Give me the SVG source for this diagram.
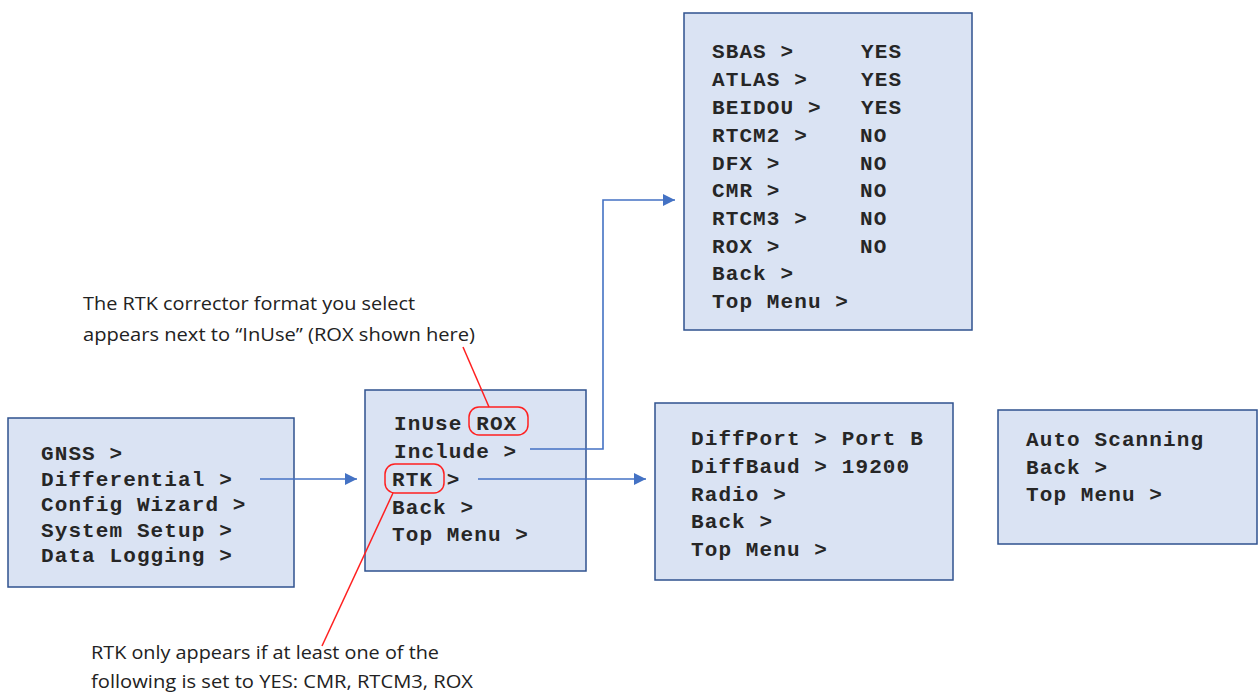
<svg xmlns="http://www.w3.org/2000/svg" width="1259" height="698" viewBox="0 0 1259 698">
<style>
.box{fill:#dae3f3;stroke:#2f528f;stroke-width:1.5}
.m{font-family:"Courier New","Liberation Mono",monospace;font-weight:bold;font-size:21px;letter-spacing:1.1px;fill:#262626}
.a{font-family:"Open Sans","Liberation Sans",Arial,sans-serif;font-size:19px;fill:#222}
.conn{fill:none;stroke:#4472c4;stroke-width:1.6}
.red{fill:none;stroke:#ff2020;stroke-width:1.5}
</style>
<defs>
<marker id="arr" viewBox="0 0 12 12" refX="12" refY="6" markerWidth="12" markerHeight="12" markerUnits="userSpaceOnUse" orient="auto">
<path d="M0,0 L12,6 L0,12 z" fill="#4472c4"/>
</marker>
</defs>
<rect width="1259" height="698" fill="#ffffff"/>

<g id="main-menu">
<rect class="box" x="8" y="418" width="286" height="169"/>
<text class="m" x="41" y="460">GNSS &gt;</text>
<text class="m" x="41" y="486">Differential &gt;</text>
<text class="m" x="41" y="511">Config Wizard &gt;</text>
<text class="m" x="41" y="537">System Setup &gt;</text>
<text class="m" x="41" y="562">Data Logging &gt;</text>
</g>

<g id="differential-menu">
<rect class="box" x="365" y="390" width="221" height="181"/>
<text class="m" x="394" y="430">InUse ROX</text>
<text class="m" x="394" y="458">Include &gt;</text>
<text class="m" x="392" y="486">RTK &gt;</text>
<text class="m" x="392" y="514">Back &gt;</text>
<text class="m" x="392" y="541">Top Menu &gt;</text>
<rect class="red" x="469" y="407" width="59" height="28" rx="10"/>
<rect class="red" x="385" y="464" width="59" height="29" rx="10"/>
</g>

<g id="include-menu">
<rect class="box" x="684" y="13" width="288" height="317"/>
<text class="m" x="712" y="58">SBAS &gt;</text>
<text class="m" x="712" y="86">ATLAS &gt;</text>
<text class="m" x="712" y="114">BEIDOU &gt;</text>
<text class="m" x="712" y="142">RTCM2 &gt;</text>
<text class="m" x="712" y="170">DFX &gt;</text>
<text class="m" x="712" y="197">CMR &gt;</text>
<text class="m" x="712" y="225">RTCM3 &gt;</text>
<text class="m" x="712" y="253">ROX &gt;</text>
<text class="m" x="712" y="280">Back &gt;</text>
<text class="m" x="712" y="308">Top Menu &gt;</text>
<text class="m" x="861" y="58">YES</text>
<text class="m" x="861" y="86">YES</text>
<text class="m" x="861" y="114">YES</text>
<text class="m" x="860" y="142">NO</text>
<text class="m" x="860" y="170">NO</text>
<text class="m" x="860" y="197">NO</text>
<text class="m" x="860" y="225">NO</text>
<text class="m" x="860" y="253">NO</text>
</g>

<g id="rtk-menu">
<rect class="box" x="655" y="403" width="298" height="177"/>
<text class="m" x="691" y="445">DiffPort &gt; Port B</text>
<text class="m" x="691" y="473">DiffBaud &gt; 19200</text>
<text class="m" x="691" y="501">Radio &gt;</text>
<text class="m" x="691" y="528">Back &gt;</text>
<text class="m" x="691" y="556">Top Menu &gt;</text>
</g>

<g id="radio-menu">
<rect class="box" x="998" y="410" width="259" height="134"/>
<text class="m" x="1026" y="446">Auto Scanning</text>
<text class="m" x="1026" y="474">Back &gt;</text>
<text class="m" x="1026" y="501">Top Menu &gt;</text>
</g>

<g id="connectors">
<path class="conn" d="M260,479 H357" marker-end="url(#arr)"/>
<path class="conn" d="M530,449 H603 V200 H675" marker-end="url(#arr)"/>
<path class="conn" d="M478,479 H646" marker-end="url(#arr)"/>
<path class="red" d="M463,347 L489,407"/>
<path class="red" d="M393,493 L322,646"/>
</g>

<g id="note-inuse">
<text class="a" x="83" y="310" textLength="332" lengthAdjust="spacingAndGlyphs">The RTK corrector format you select</text>
<text class="a" x="83" y="341" textLength="392" lengthAdjust="spacingAndGlyphs">appears next to “InUse” (ROX shown here)</text>
</g>

<g id="note-rtk">
<text class="a" x="91" y="659" textLength="348" lengthAdjust="spacingAndGlyphs">RTK only appears if at least one of the</text>
<text class="a" x="91" y="688" textLength="382" lengthAdjust="spacingAndGlyphs">following is set to YES: CMR, RTCM3, ROX</text>
</g>
</svg>
